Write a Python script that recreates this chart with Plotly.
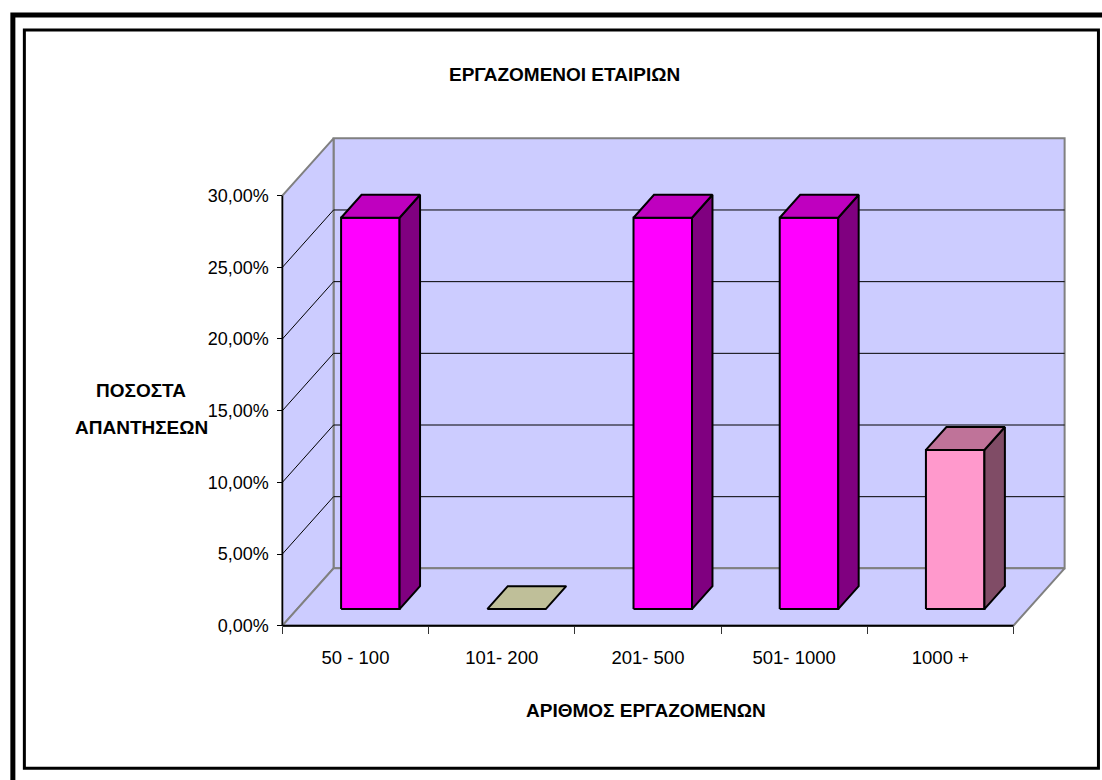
import plotly.graph_objects as go

# ---- data -------------------------------------------------------------
categories = ["50 - 100", "101- 200", "201- 500", "501- 1000", "1000 +"]
shares = [27.3, 0.0, 27.3, 27.3, 11.1]          # percent of answers
bar_colors = ["#FF00FF", "#FFFFCC", "#FF00FF", "#FF00FF", "#FF99CC"]
y_ticks = [0, 5, 10, 15, 20, 25, 30]
y_tick_labels = ["0,00%", "5,00%", "10,00%", "15,00%", "20,00%", "25,00%", "30,00%"]

title_text = "ΕΡΓΑΖΟΜΕΝΟΙ ΕΤΑΙΡΙΩΝ"
x_title = "ΑΡΙΘΜΟΣ ΕΡΓΑΖΟΜΕΝΩΝ"
y_title_lines = ["ΠΟΣΟΣΤΑ", "ΑΠΑΝΤΗΣΕΩΝ"]

# ---- 3-D projection settings (oblique view) ---------------------------
DX, DY = 0.35, 4.0        # full depth offset, in x-units / percent units
F1, F2 = 0.29, 0.69       # depth fraction of bar front / back faces
BW = 0.40                 # bar width as share of a category slot
Y_MAX = y_ticks[-1]
N = len(categories)

# ---- page geometry ----------------------------------------------------
W, H = 1102, 780
SX, SY = 146.2, 14.33     # pixels per category / per percent
X0_PX, Y0_PX = 282, 626   # where the front axes meet
XR = [-0.03, N + DX + 0.03]
YR = [-0.3, Y_MAX + DY + 0.3]
L = X0_PX + XR[0] * SX
PW = (XR[1] - XR[0]) * SX
R = W - L - PW
B = H - Y0_PX + YR[0] * SY
PH = (YR[1] - YR[0]) * SY
T = H - B - PH


def px(x):
    return (x - L) / PW


def py(y):
    return (H - B - y) / PH


def shade(hex_color, k):
    r, g, b = (int(hex_color[i:i + 2], 16) for i in (1, 3, 5))
    return "#%02X%02X%02X" % (round(r * k), round(g * k), round(b * k))


FONT = "Liberation Sans, Arial, sans-serif"
WALL = "#CCCCFF"
EDGE = "#808080"

fig = go.Figure()


def poly(points, fill, line_color, width):
    xs = [p[0] for p in points] + [points[0][0]]
    ys = [p[1] for p in points] + [points[0][1]]
    fig.add_trace(go.Scatter(x=xs, y=ys, mode="lines", fill="toself",
                             fillcolor=fill, line=dict(color=line_color, width=width),
                             hoverinfo="skip", showlegend=False))


def seg(x, y, color, width):
    fig.add_trace(go.Scatter(x=x, y=y, mode="lines",
                             line=dict(color=color, width=width),
                             hoverinfo="skip", showlegend=False))


# walls and floor
poly([(DX, DY), (N + DX, DY), (N + DX, Y_MAX + DY), (DX, Y_MAX + DY)], WALL, EDGE, 2)
poly([(0, 0), (DX, DY), (DX, Y_MAX + DY), (0, Y_MAX)], WALL, EDGE, 2)
poly([(0, 0), (N, 0), (N + DX, DY), (DX, DY)], WALL, EDGE, 2)

# gridlines on the back and side walls
for v in y_ticks[1:-1]:
    seg([DX, N + DX], [v + DY, v + DY], "#000000", 1)
    seg([0, DX], [v, v + DY], "#000000", 1)

# front axes
seg([0, 0], [0, Y_MAX], "#000000", 1.5)
seg([0, N], [0, 0], "#000000", 2)

# bars: front, top and right-hand faces
ddx, ddy = (F2 - F1) * DX, (F2 - F1) * DY
for i, (v, c) in enumerate(zip(shares, bar_colors)):
    x0 = i + 0.5 - BW / 2 + F1 * DX
    x1 = x0 + BW
    y0 = F1 * DY
    y1 = v + F1 * DY
    if v > 0:
        poly([(x0, y0), (x1, y0), (x1, y1), (x0, y1)], c, "#000000", 2)
        poly([(x1, y0), (x1 + ddx, y0 + ddy), (x1 + ddx, y1 + ddy), (x1, y1)],
             shade(c, 0.5), "#000000", 2)
    poly([(x0, y1), (x1, y1), (x1 + ddx, y1 + ddy), (x0 + ddx, y1 + ddy)],
         shade(c, 0.75), "#000000", 2)


def label(text, x, y):
    return dict(text="<b>%s</b>" % text, xref="paper", yref="paper",
                x=px(x), y=py(y), xanchor="center", yanchor="middle",
                showarrow=False, font=dict(family=FONT, size=19, color="#000000"))


fig.update_layout(
    width=W, height=H,
    margin=dict(l=L, r=R, t=T, b=B, autoexpand=False),
    paper_bgcolor="#FFFFFF", plot_bgcolor="rgba(0,0,0,0)",
    showlegend=False,
    xaxis=dict(range=XR, showgrid=False, zeroline=False, showline=False,
               tickvals=[i + 0.5 for i in range(N)], ticktext=categories,
               ticks="", ticklabelstandoff=19,
               tickfont=dict(family=FONT, size=18.5, color="#000000"),
               minor=dict(tickvals=list(range(N + 1)), ticks="outside",
                          ticklen=7, tickcolor="#333333", tickwidth=1),
               anchor="free", position=py(Y0_PX), fixedrange=True),
    yaxis=dict(range=YR, showgrid=False, zeroline=False, showline=False,
               tickvals=y_ticks, ticktext=y_tick_labels,
               ticks="outside", ticklen=5, tickcolor="#000000", tickwidth=1,
               ticklabelstandoff=5,
               tickfont=dict(family=FONT, size=18, color="#000000"),
               anchor="free", position=px(X0_PX), fixedrange=True),
    shapes=[
        dict(type="rect", xref="paper", yref="paper",
             x0=px(12.5), x1=px(1112), y0=py(15.5), y1=py(795),
             line=dict(color="#000000", width=5), layer="above"),
        dict(type="rect", xref="paper", yref="paper",
             x0=px(24), x1=px(1098), y0=py(30.5), y1=py(768.5),
             line=dict(color="#000000", width=3), layer="above"),
    ],
    annotations=[
        label(title_text, 564, 75),
        label(x_title, 646, 711),
        label(y_title_lines[0], 141, 391),
        label(y_title_lines[1], 141, 428),
    ],
)

fig.write_html("out.html")
